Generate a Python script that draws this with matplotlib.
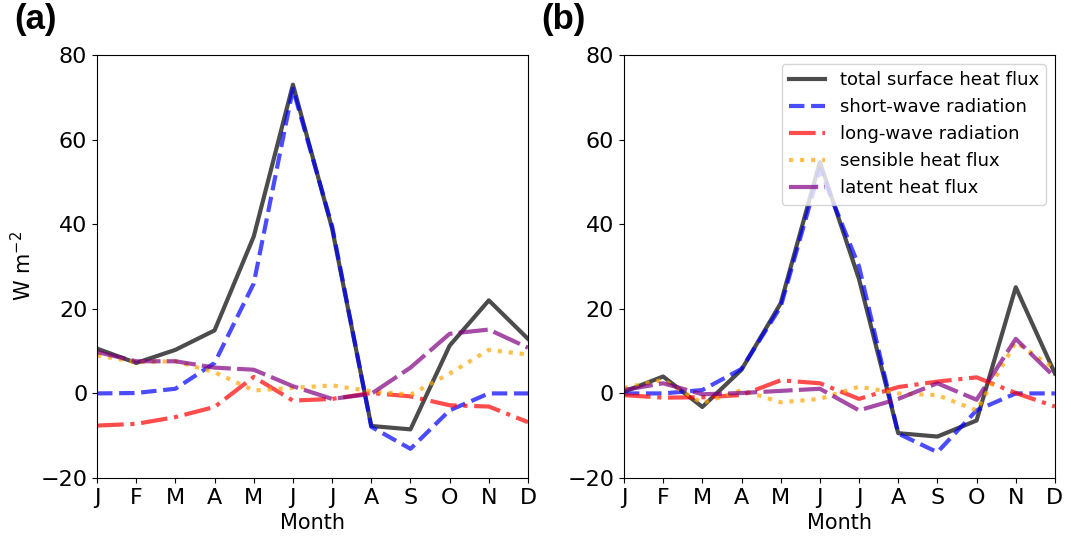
import numpy as np
import matplotlib
matplotlib.use('Agg')
import matplotlib.pyplot as plt

months = ['J', 'F', 'M', 'A', 'M', 'J', 'J', 'A', 'S', 'O', 'N', 'D']

# panel (a)
total_a = [10.6, 7.2, 10.3, 14.9, 37.1, 73.0, 39.0, -7.7, -8.5, 11.3, 22.0, 12.9]
sw_a = [0.0, 0.1, 1.1, 7.2, 26.0, 72.0, 39.5, -7.9, -13.1, -4.0, 0.0, 0.0]
lw_a = [-7.6, -7.2, -5.6, -3.2, 3.9, -1.7, -1.3, 0.1, -0.7, -2.8, -3.1, -6.8]
sens_a = [9.0, 7.4, 7.6, 5.0, 0.7, 1.3, 1.9, 0.5, -0.3, 4.7, 10.3, 9.2]
lat_a = [9.8, 7.6, 7.6, 6.1, 5.6, 1.7, -1.3, -0.1, 6.1, 14.1, 15.1, 10.8]

# panel (b)
total_b = [0.4, 4.0, -3.2, 5.6, 21.3, 54.7, 27.0, -9.4, -10.2, -6.4, 25.1, 4.7]
sw_b = [0.0, 0.0, 0.8, 5.8, 20.5, 53.0, 30.0, -9.5, -13.9, -4.0, 0.0, 0.0]
lw_b = [-0.4, -1.0, -0.9, -0.4, 3.1, 2.4, -1.3, 1.5, 2.8, 3.8, 0.1, -3.1]
sens_b = [1.3, 3.2, -2.3, 0.8, -2.1, -1.3, 1.6, 0.0, -0.4, -4.0, 12.1, 5.8]
lat_b = [0.8, 2.4, -0.2, 0.1, 0.6, 1.1, -4.0, -1.3, 2.4, -1.5, 12.9, 3.8]

labels = ['total surface heat flux', 'short-wave radiation', 'long-wave radiation',
          'sensible heat flux', 'latent heat flux']
colors = ['k', 'b', 'r', 'orange', 'purple']
styles = ['-', '--', '-.', ':', (0, (7, 1.5))]

fig = plt.figure(figsize=(10.71, 5.38), dpi=100)
ax1 = fig.add_axes([0.0906, 0.1115, 0.4024, 0.7862])
ax2 = fig.add_axes([0.5826, 0.1115, 0.4024, 0.7862])

x = np.arange(12)
for ax, data in [(ax1, [total_a, sw_a, lw_a, sens_a, lat_a]),
                 (ax2, [total_b, sw_b, lw_b, sens_b, lat_b])]:
    for d, lab, c, ls in zip(data, labels, colors, styles):
        ax.plot(x, d, color=c, linestyle=ls, linewidth=3, alpha=0.7, label=lab)
    ax.set_xlim(0, 11)
    ax.set_ylim(-20, 80)
    ax.set_xticks(x)
    ax.set_xticklabels(months)
    ax.set_yticks([-20, 0, 20, 40, 60, 80])
    ax.tick_params(labelsize=16)
    ax.set_xlabel('Month', fontsize=15)

# panel tags
fig.text(14 / 1071, 1 - 3 / 538, '(a)', fontsize=25, fontweight='bold',
         family='Liberation Sans', va='top', ha='left')
fig.text(541 / 1071, 1 - 3 / 538, '(b)', fontsize=25, fontweight='bold',
         family='Liberation Sans', va='top', ha='left')

ax1.set_ylabel('W m$^{-2}$', fontsize=15)
ax2.legend(loc='upper right', fontsize=13)

fig.savefig('out.png', dpi=100)
